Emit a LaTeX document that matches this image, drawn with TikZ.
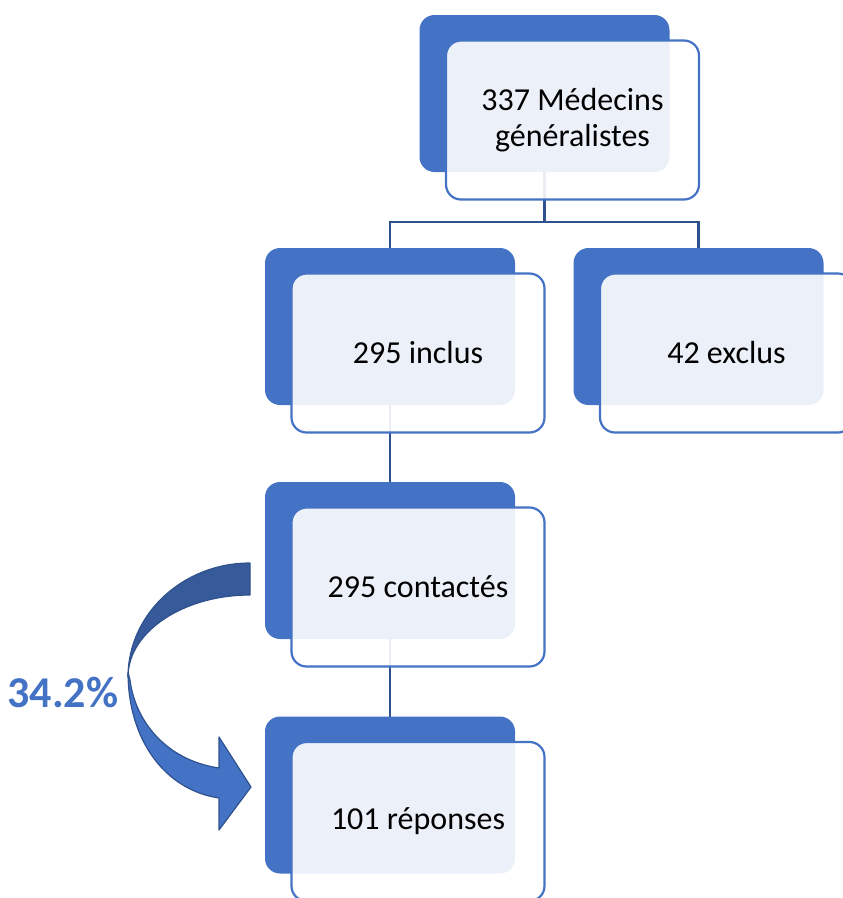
\documentclass[tikz,border=0pt]{standalone}
\usepackage{fontspec}
\setmainfont{Carlito}
\usetikzlibrary{backgrounds,calc,positioning}
\definecolor{boxblue}{HTML}{4472C4}
\definecolor{linkblue}{HTML}{2F528F}
\definecolor{bandblue}{HTML}{365A9A}
\tikzstyle{backbox} =[rectangle, rounded corners=15pt, fill=boxblue,
                      minimum width=250pt, minimum height=157pt,
                      inner sep=0pt]
\tikzstyle{frontbox}=[rectangle, rounded corners=15pt, draw=boxblue,
                      line width=2.2pt, fill=white, fill opacity=0.9,
                      text opacity=1, minimum width=253pt,
                      minimum height=159pt, inner sep=0pt, align=center,
                      font=\fontsize{32}{36}\selectfont]
\tikzstyle{link}    =[draw=linkblue, line width=2.5pt]
\tikzstyle{band}    =[draw=linkblue, line width=1.2pt, line join=round]

\begin{document}
\begin{tikzpicture}[x=1pt, y=-1pt]
    \useasboundingbox (0,0) rectangle (843,898);
    \clip (0,0) rectangle (843,898);
    \foreach \n/\x/\y/\txt in {med/544.5/93.5/{337 Médecins\\généralistes},
                               incl/390/326.5/{295 inclus},
                               excl/698.5/326.5/{42 exclus},
                               cont/390/560.5/{295 contactés},
                               rep/390/795/{101 réponses}}{
        \node[backbox] (\n-back) at (\x,\y) {};
        \node[frontbox] (\n) at (\x+28,\y+26.5) {\txt};
    }

    \begin{scope}[on background layer]
        \coordinate (fork) at ($(med-back.center)+(0,128.5)$);
        \draw[link] (med-back.center) -- (fork) -| (incl-back.center);
        \draw[link] (fork) -| (excl-back.center);
        \draw[link] (incl-back.center) -- (cont-back.center);
        \draw[link] (cont-back.center) -- (rep-back.center);
    \end{scope}

    % curved arrow
    \path[band, fill=boxblue] (128,672) .. controls (128,740) and (165,790) .. (219,798)
        -- (219,830) -- (251,787) -- (219,737) -- (219,768)
        .. controls (165,760) and (135,720) .. (130,680) -- cycle;
    \path[band, fill=bandblue] (250,563) .. controls (183,563) and (128,614) .. (128,677)
        .. controls (128,632) and (183,595) .. (250,595) -- cycle;
    \node[text=boxblue, inner sep=0pt, font=\bfseries\fontsize{44}{48}\selectfont] (rate) at (63,693) {34.2\%};
\end{tikzpicture}
\end{document}
